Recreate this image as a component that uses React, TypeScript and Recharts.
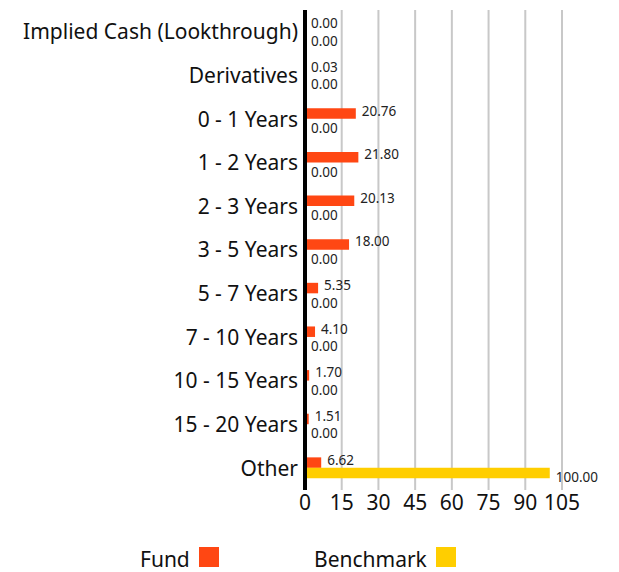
import { Bar, BarChart, CartesianGrid, LabelList, XAxis, YAxis } from "recharts";

const categories = [
  "Implied Cash (Lookthrough)",
  "Derivatives",
  "0 - 1 Years",
  "1 - 2 Years",
  "2 - 3 Years",
  "3 - 5 Years",
  "5 - 7 Years",
  "7 - 10 Years",
  "10 - 15 Years",
  "15 - 20 Years",
  "Other",
];
const fundValues = [0.0, 0.03, 20.76, 21.8, 20.13, 18.0, 5.35, 4.1, 1.7, 1.51, 6.62];
const benchmarkValues = [0, 0, 0, 0, 0, 0, 0, 0, 0, 0, 100.0];
const xTicks = [0, 15, 30, 45, 60, 75, 90, 105];

const FUND = "#ff4713";
const BENCH = "#ffce00";
const FONT = "'Noto Sans', sans-serif";

const data = categories.map((name, i) => ({
  name,
  fund: fundValues[i],
  benchmark: benchmarkValues[i],
}));

function valueLabel(dy: number) {
  return (props: any) => {
    const { x, y, width, height, value } = props;
    return (
      <text
        x={Number(x) + Number(width) + 6}
        y={Number(y) + Number(height) / 2 + dy}
        dominantBaseline="central"
        fontSize={13.5}
        fontFamily={FONT}
        fill="#222"
      >
        {Number(value).toFixed(2)}
      </text>
    );
  };
}

export default function App() {
  return (
    <div style={{ position: "absolute", left: 0, top: 0, width: 619, height: 572, background: "#fff", overflow: "hidden" }}>
      <BarChart
        width={619}
        height={572}
        data={data}
        layout="vertical"
        margin={{ top: 10, right: 57, bottom: 52, left: 0 }}
        barSize={10.5}
        barGap={0}
      >
        <CartesianGrid horizontal={false} stroke="#c8c8c8" strokeWidth={2} />
        <XAxis
          type="number"
          domain={[0, 105]}
          ticks={xTicks}
          axisLine={false}
          tickLine={false}
          tickSize={0}
          tickMargin={5}
          interval={0}
          tick={{ fontSize: 21, fill: "#111", fontFamily: FONT }}
        />
        <YAxis
          type="category"
          dataKey="name"
          width={305}
          tickLine={false}
          tickSize={0}
          tickMargin={7}
          interval={0}
          axisLine={{ stroke: "#000", strokeWidth: 4 }}
          tick={{ fontSize: 21, fill: "#111", fontFamily: FONT }}
        />
        <Bar dataKey="fund" fill={FUND} minPointSize={0.01} isAnimationActive={false}>
          <LabelList dataKey="fund" content={valueLabel(-3)} />
        </Bar>
        <Bar dataKey="benchmark" fill={BENCH} minPointSize={0.01} isAnimationActive={false}>
          <LabelList dataKey="benchmark" content={valueLabel(4)} />
        </Bar>
      </BarChart>
      <div style={{ position: "absolute", left: 140, top: 547, fontFamily: FONT, fontSize: 21, color: "#111", lineHeight: "24px" }}>
        Fund
      </div>
      <div style={{ position: "absolute", left: 199, top: 547, width: 20, height: 20, background: FUND }} />
      <div style={{ position: "absolute", left: 314, top: 547, fontFamily: FONT, fontSize: 21, color: "#111", lineHeight: "24px" }}>
        Benchmark
      </div>
      <div style={{ position: "absolute", left: 436, top: 547, width: 20, height: 20, background: BENCH }} />
    </div>
  );
}
